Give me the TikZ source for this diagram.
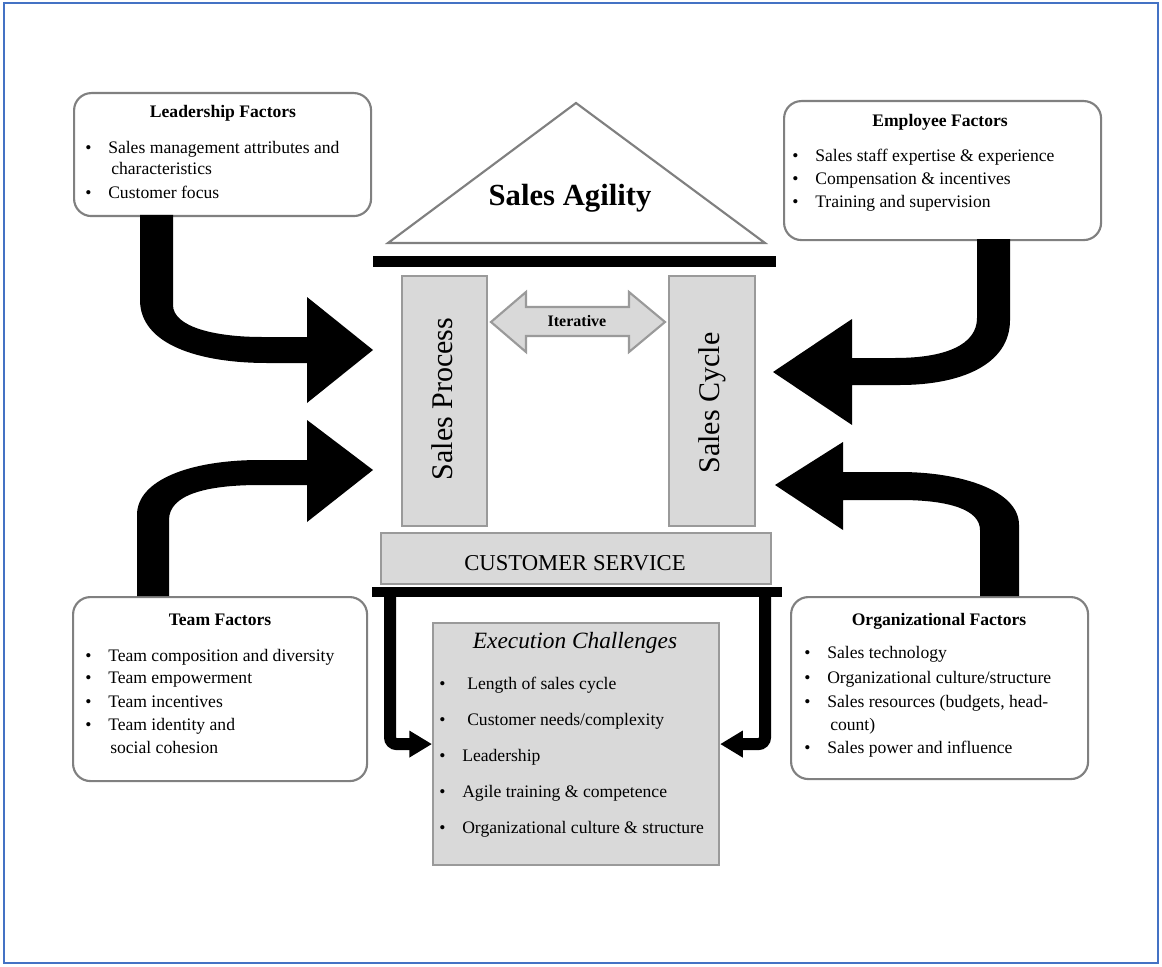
\documentclass[tikz,border=0pt]{standalone}
\usepackage{fontspec}
\setmainfont{Liberation Serif}
\usetikzlibrary{arrows.meta}
\definecolor{bordblue}{HTML}{4472C4}
\definecolor{boxgray}{HTML}{808080}
\definecolor{fillgray}{HTML}{D9D9D9}
\definecolor{colgray}{HTML}{9A9A9A}
\newcommand{\bitem}[1]{\makebox[17.25pt][l]{\textbullet}#1}
\begin{document}
\begin{tikzpicture}[x=0.75pt,y=-0.75pt,
  factor/.style={draw=boxgray, line width=1.6pt, rounded corners=13pt, fill=white, inner sep=0pt, anchor=north west},
  graybox/.style={draw=colgray, line width=1.6pt, fill=fillgray, inner sep=0pt, anchor=north west},
  bar/.style={fill=black, inner sep=0pt, anchor=north west},
  txt/.style={inner sep=0pt, anchor=base west, font=\fontsize{13.2}{15}\selectfont},
  ttl/.style={inner sep=0pt, anchor=base, font=\fontsize{13.2}{15}\selectfont\bfseries},
  bigarrow/.style={fill=black},
  leg/.style={draw=black, line width=9pt, rounded corners=5pt, -{Triangle[length=17pt,width=19pt]}}
]
\useasboundingbox (0,0) rectangle (1162,966);
\draw[bordblue, line width=1.6pt] (4,3) rectangle (1158,963);

% factor boxes
\node[factor, minimum width=222.75pt, minimum height=92.25pt] (lead) at (73,92) {};
\node[factor, minimum width=237.75pt, minimum height=104.25pt] (emp) at (783,100) {};
\node[factor, minimum width=220.5pt, minimum height=138pt] (team) at (72,596) {};
\node[factor, minimum width=222.75pt, minimum height=136.5pt] (org) at (790,596) {};

% leadership text
\node[ttl] (leadT) at (223,118) {Leadership Factors};
\node[txt] (lead1) at (85,154) {\bitem{Sales management attributes and}};
\node[txt] (lead1b) at (111,175) {characteristics};
\node[txt] (lead2) at (85,199) {\bitem{Customer focus}};

% employee text
\node[ttl] (empT) at (940,127) {Employee Factors};
\node[txt] (emp1) at (792,162) {\bitem{Sales staff expertise \& experience}};
\node[txt] (emp2) at (792,185) {\bitem{Compensation \& incentives}};
\node[txt] (emp3) at (792,208) {\bitem{Training and supervision}};

% team text
\node[ttl] (teamT) at (220,625) {Team Factors};
\node[txt] (team1) at (85,661) {\bitem{Team composition and diversity}};
\node[txt] (team2) at (85,683) {\bitem{Team empowerment}};
\node[txt] (team3) at (85,707) {\bitem{Team incentives}};
\node[txt] (team4) at (85,730) {\bitem{Team identity and}};
\node[txt] (team4b) at (110,753) {social cohesion};

% organizational text
\node[ttl] (orgT) at (939,625) {Organizational Factors};
\node[txt] (org1) at (804,658) {\bitem{Sales technology}};
\node[txt] (org2) at (804,683) {\bitem{Organizational culture/structure}};
\node[txt] (org3) at (804,707) {\bitem{Sales resources (budgets, head-}};
\node[txt] (org3b) at (830,730) {count)};
\node[txt] (org4) at (804,753) {\bitem{Sales power and influence}};

% roof
\draw[boxgray, line width=1.6pt, fill=white] (388,243) -- (576,103) -- (765,243) -- cycle;
\node[inner sep=0pt, anchor=base, font=\fontsize{23}{26}\selectfont\bfseries] (agility) at (570,205) {Sales Agility};
\node[bar, minimum width=302.25pt, minimum height=8.25pt] (topbar) at (373,256) {};

% columns
\node[graybox, minimum width=63.75pt, minimum height=187.5pt] (spcol) at (401,275) {};
\node[graybox, minimum width=64.5pt, minimum height=187.5pt] (sccol) at (668,275) {};
\node[rotate=90, inner sep=0pt, font=\fontsize{22.5}{26}\selectfont] (sp) at (442,399) {Sales Process};
\node[rotate=90, inner sep=0pt, font=\fontsize{22.5}{26}\selectfont] (sc) at (712,403) {Sales Cycle};

% iterative double arrow
\draw[draw=colgray, line width=1.6pt, fill=fillgray] (491,322) -- (526,292) -- (526,307) -- (629,307) -- (629,292) -- (665,322) -- (629,352) -- (629,336) -- (526,336) -- (526,352) -- cycle;
\node[inner sep=0pt, anchor=base, font=\fontsize{12}{14}\selectfont\bfseries] (iter) at (577,326) {Iterative};

% customer service
\node[graybox, minimum width=292.5pt, minimum height=38.25pt] (cs) at (380,532) {};
\node[inner sep=0pt, anchor=base, font=\fontsize{17}{20}\selectfont] (csT) at (575,570) {CUSTOMER SERVICE};
\node[bar, minimum width=307.5pt, minimum height=7.5pt] (botbar) at (372,587) {};

% execution challenges
\node[graybox, minimum width=214.5pt, minimum height=181.5pt] (ec) at (432,622) {};
\node[inner sep=0pt, anchor=base, font=\fontsize{17.5}{20}\selectfont\itshape] (ecT) at (575,648) {Execution Challenges};
\node[txt] (ec1) at (439,689) {\bitem{\hspace{3.75pt}Length of sales cycle}};
\node[txt] (ec2) at (439,725) {\bitem{\hspace{3.75pt}Customer needs/complexity}};
\node[txt] (ec3) at (439,761) {\bitem{Leadership}};
\node[txt] (ec4) at (439,797) {\bitem{Agile training \& competence}};
\node[txt] (ec5) at (439,833) {\bitem{Organizational culture \& structure}};

% legs from bottom bar to execution challenges
\draw[leg] (390,593) |- (ec.west);
\draw[leg] (765,593) |- (ec.east);

% big curved arrows
\fill[bigarrow] (140,215) -- (140,300) .. controls (140,345) and (200,363) .. (267,363) -- (307,363) -- (307,403) -- (373,350) -- (307,297) -- (307,337) -- (262,337) .. controls (215,337) and (173,327) .. (173,305) -- (173,215) -- cycle;
\fill[bigarrow] (1010,239) -- (1010,320) .. controls (1010,365) and (960,385) .. (900,385) -- (852,385) -- (852,425) -- (773,372) -- (852,319) -- (852,358) -- (895,358) .. controls (945,358) and (977,345) .. (977,318) -- (977,239) -- cycle;
\fill[bigarrow] (137,596) -- (137,515) .. controls (137,480) and (190,460) .. (260,460) -- (307,460) -- (307,420) -- (373,470) -- (307,522) -- (307,485) -- (260,485) .. controls (205,485) and (169,495) .. (169,520) -- (169,596) -- cycle;
\fill[bigarrow] (1019,596) -- (1019,525) .. controls (1019,490) and (960,472) .. (900,472) -- (843,472) -- (843,442) -- (775,485) -- (843,530) -- (843,500) -- (900,500) .. controls (950,500) and (980,510) .. (980,530) -- (980,596) -- cycle;
\end{tikzpicture}
\end{document}
